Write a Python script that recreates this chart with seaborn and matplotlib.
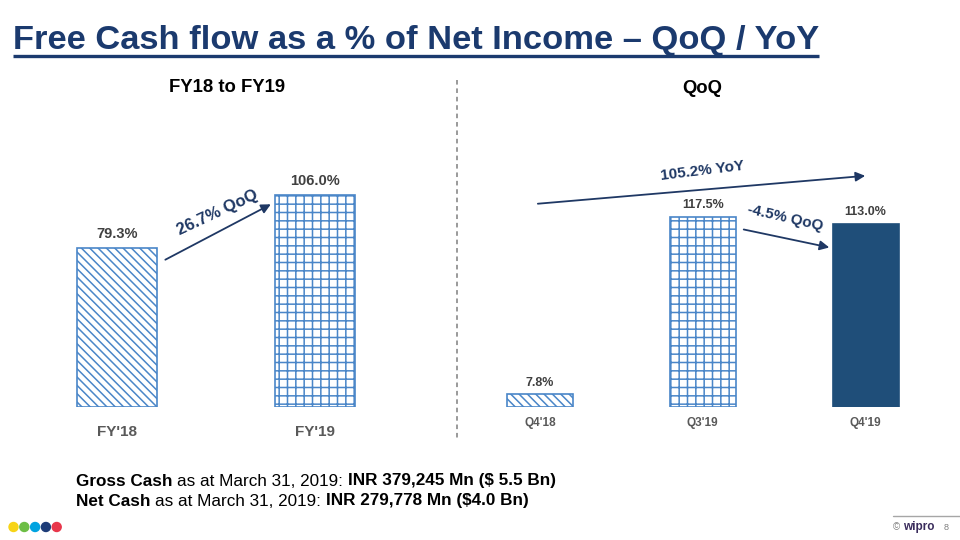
import matplotlib
matplotlib.use("Agg")
import matplotlib.pyplot as plt
from matplotlib.lines import Line2D
from matplotlib.patches import Circle
import seaborn as sns
import pandas as pd

# ---------------- data ----------------
fy_categories = ["FY'18", "FY'19"]
fy_values = [79.3, 106.0]
q_categories = ["Q4'18", "Q3'19", "Q4'19"]
q_values = [7.8, 117.5, 113.0]
fy_change_label = "26.7% QoQ"
yoy_label = "105.2% YoY"
qoq_label = "-4.5% QoQ"
title = "Free Cash flow as a % of Net Income \u2013 QoQ / YoY"
left_title = "FY18 to FY19"
right_title = "QoQ"
footer_lines = [
    [("Gross Cash", True), (" as at March 31, 2019: ", False), ("INR 379,245 Mn ($ 5.5 Bn)", True)],
    [("Net Cash", True), (" as at March 31, 2019: ", False), ("INR 279,778 Mn ($4.0 Bn)", True)],
]
dot_colors = ["#F7D417", "#6DBE45", "#00A3E0", "#1D3C78", "#E8364B"]

# ---------------- style ----------------
sns.set_style("white")
plt.rcParams["font.family"] = ["Liberation Sans", "DejaVu Sans"]
plt.rcParams["hatch.linewidth"] = 1.1

W, H = 960, 540
BLUE = "#4A86C8"
NAVY = "#1F4E79"
TITLE_C = "#1B3A6E"
ARROW_C = "#1F3864"
LABEL_C = "#404040"
DIAG = chr(92) * 4
GRID = "++"

fig = plt.figure(figsize=(9.6, 5.4), dpi=100)
fig.patch.set_facecolor("white")


def px_axes(x0, y0, x1, y1):
    return fig.add_axes([x0 / W, 1 - y1 / H, (x1 - x0) / W, (y1 - y0) / H])


def style_bars(ax, styles):
    for patch, (fc, hatch) in zip(ax.patches, styles):
        patch.set_facecolor(fc)
        patch.set_hatch(hatch)
        patch.set_edgecolor(BLUE if hatch else fc)
        patch.set_linewidth(1.2)


# ---------------- left chart ----------------
axL = px_axes(47.7, 150, 394, 407)
dfL = pd.DataFrame({"cat": fy_categories, "val": fy_values})
sns.barplot(data=dfL, x="cat", y="val", hue="cat", palette=["white", "white"],
            width=0.404, legend=False, ax=axL, saturation=1)
style_bars(axL, [("white", DIAG), ("white", GRID)])
axL.set_xlim(-0.35, 1.4)
axL.set_ylim(0, 128.5)
for i, v in enumerate(fy_values):
    axL.annotate(f"{v:.1f}%", (i, v), xytext=(0, 5), textcoords="offset points",
                 ha="center", va="bottom", fontsize=10.5, fontweight="bold", color=LABEL_C)
axL.annotate("", xy=(0.79, 102), xytext=(0.232, 73),
             arrowprops=dict(arrowstyle="-|>", color=ARROW_C, lw=1.3, mutation_scale=14))
axL.text(0.51, 97, fy_change_label, rotation=25, ha="center", va="center",
         fontsize=12, fontweight="bold", color=ARROW_C, rotation_mode="anchor")

# ---------------- right chart ----------------
axR = px_axes(490, 150, 930, 407)
dfR = pd.DataFrame({"cat": q_categories, "val": q_values})
sns.barplot(data=dfR, x="cat", y="val", hue="cat", palette=["white", "white", NAVY],
            width=0.405, legend=False, ax=axR, saturation=1)
style_bars(axR, [("white", DIAG), ("white", GRID), (NAVY, "")])
axR.set_xlim(-0.307, 2.396)
axR.set_ylim(0, 158.6)
for i, v in enumerate(q_values):
    axR.annotate(f"{v:.1f}%", (i, v), xytext=(0, 4), textcoords="offset points",
                 ha="center", va="bottom", fontsize=9, fontweight="bold", color=LABEL_C)
axR.annotate("", xy=(2.015, 142.8), xytext=(-0.03, 125.3),
             arrowprops=dict(arrowstyle="-|>", color=ARROW_C, lw=1.3, mutation_scale=14))
axR.text(1.0, 145.5, yoy_label, rotation=7, ha="center", va="center",
         fontsize=11, fontweight="bold", color=ARROW_C, rotation_mode="anchor")
axR.annotate("", xy=(1.794, 98.1), xytext=(1.235, 109.9),
             arrowprops=dict(arrowstyle="-|>", color=ARROW_C, lw=1.3, mutation_scale=14))
axR.text(1.505, 117, qoq_label, rotation=-13, ha="center", va="center",
         fontsize=11, fontweight="bold", color=ARROW_C, rotation_mode="anchor")

for ax, pad, fs in [(axL, 13, 11), (axR, 7, 8.5)]:
    ax.set_xlabel("")
    ax.set_ylabel("")
    ax.set_yticks([])
    for s in ax.spines.values():
        s.set_visible(False)
    ax.tick_params(axis="x", length=0, pad=pad)
    for lbl in ax.get_xticklabels():
        lbl.set_fontweight("bold")
        lbl.set_fontsize(fs)
        lbl.set_color("#595959")
    ax.set_facecolor("none")

# ---------------- titles & decorations ----------------
t = fig.text(13 / W, 1 - 40 / H, title, fontsize=24.8, fontweight="bold",
             color=TITLE_C, ha="left", va="center")
fig.text(227 / W, 1 - 87 / H, left_title, fontsize=13.3, fontweight="bold",
         color="black", ha="center", va="center")
fig.text(702 / W, 1 - 89 / H, right_title, fontsize=13.3, fontweight="bold",
         color="black", ha="center", va="center")
fig.add_artist(Line2D([457 / W, 457 / W], [1 - 80 / H, 1 - 440 / H],
                      ls=(0, (3, 2.5)), color="#7F7F7F", lw=1.1))

fig.canvas.draw()
renderer = fig.canvas.get_renderer()
bb = t.get_window_extent(renderer)
fig.add_artist(Line2D([bb.x0 / W, bb.x1 / W], [1 - 56 / H, 1 - 56 / H],
                      color=TITLE_C, lw=2.4, solid_capstyle="butt"))

# footer rich text
FS = 12.35


def measure(txt, bold):
    tt = fig.text(0, 0, txt, fontsize=FS, fontweight="bold" if bold else "normal")
    w = tt.get_window_extent(renderer).width
    tt.remove()
    return w


for row, parts in enumerate(footer_lines):
    x = 76
    y = 481 + row * 20
    for txt, bold in parts:
        lead = len(txt) - len(txt.lstrip(" "))
        trail = len(txt) - len(txt.rstrip(" "))
        sp = measure("x x", bold) - measure("xx", bold)
        x += lead * sp
        core = txt.strip(" ")
        tt = fig.text(x / W, 1 - y / H, core, fontsize=FS,
                      fontweight="bold" if bold else "normal", color="black",
                      ha="left", va="center")
        x += tt.get_window_extent(renderer).width + trail * sp

# colored dots (drawn in inch units so they stay round)
for i, c in enumerate(dot_colors):
    fig.add_artist(Circle(((13.5 + i * 10.8) / 100, (540 - 527) / 100), 4.5 / 100,
                          color=c, transform=fig.dpi_scale_trans))
# footer right
fig.add_artist(Line2D([893 / W, 1.0], [1 - 516 / H, 1 - 516 / H], color="#A6A6A6", lw=1))
fig.text(893 / W, 1 - 527 / H, "\u00a9", fontsize=7, color="#7F7F7F", ha="left", va="center")
fig.text(903 / W, 1 - 527 / H, "wipro", fontsize=8.5, fontweight="bold", color="#3A2C5C",
         ha="left", va="center")
fig.text(944 / W, 1 - 527 / H, "8", fontsize=6.5, color="#7F7F7F", ha="left", va="center")

fig.savefig("out.png", dpi=100, facecolor="white")
